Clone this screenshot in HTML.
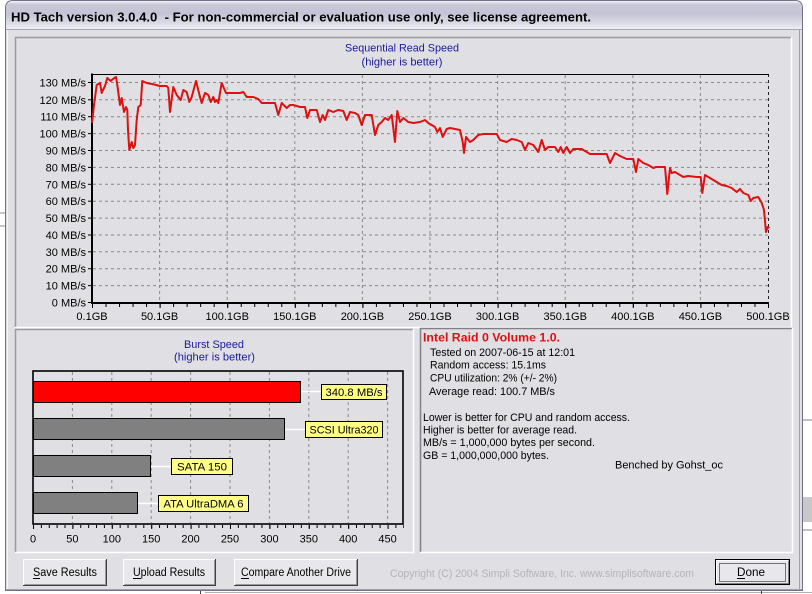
<!DOCTYPE html>
<html><head><meta charset="utf-8"><style>
html,body{margin:0;padding:0;background:#fff;}
svg{display:block;font-family:"Liberation Sans",Arial,sans-serif;}
</style></head><body>
<svg width="812" height="594" viewBox="0 0 812 594" xmlns="http://www.w3.org/2000/svg">
<defs>
<linearGradient id="tb" x1="0" y1="0" x2="0" y2="1">
<stop offset="0" stop-color="#f6f6fa"/>
<stop offset="0.12" stop-color="#c8c8d8"/>
<stop offset="0.45" stop-color="#c4c4d6"/>
<stop offset="0.8" stop-color="#dcdce6"/>
<stop offset="1" stop-color="#eeeef3"/>
</linearGradient>
</defs>
<rect x="0" y="0" width="812" height="594" fill="#ffffff"/>
<!-- outside bits -->
<rect x="803" y="497" width="9" height="25" fill="#c8c8c8"/>
<line x1="803" y1="420" x2="812" y2="420" stroke="#808080"/>
<line x1="803" y1="530" x2="812" y2="530" stroke="#808080"/>
<line x1="0" y1="213" x2="5" y2="213" stroke="#909090"/>
<line x1="0" y1="226" x2="5" y2="226" stroke="#909090"/>
<line x1="200.5" y1="588" x2="200.5" y2="594" stroke="#404040"/>
<line x1="205" y1="592.5" x2="812" y2="592.5" stroke="#b0b0b0"/>
<line x1="761.5" y1="588" x2="761.5" y2="594" stroke="#404040"/>

<!-- window -->
<path d="M5.5,590.5 V8 Q5.5,0.5 13,0.5 H795 Q802.5,0.5 802.5,8 V590.5 Z" fill="#e0dfe3" stroke="#70708a"/>
<path d="M6,29 V8 Q6,1 13,1 H795 Q802,1 802,8 V29 Z" fill="url(#tb)"/>
<line x1="6" y1="29.5" x2="802" y2="29.5" stroke="#a6a6b8"/>
<line x1="7.5" y1="30" x2="7.5" y2="589" stroke="#f4f4f6"/>
<line x1="799.5" y1="30" x2="799.5" y2="589" stroke="#a0a0a8"/>
<line x1="6" y1="589.5" x2="802" y2="589.5" stroke="#a0a0a8"/>
<text x="11" y="21.5" font-size="12.5" font-weight="bold" fill="#000" textLength="580" lengthAdjust="spacingAndGlyphs" xml:space="preserve">HD Tach version 3.0.4.0  - For non-commercial or evaluation use only, see license agreement.</text>

<!-- top panel -->
<rect x="15" y="37" width="776" height="290" fill="#e0dfe3"/>
<path d="M15.5,327 V37.5 H791" fill="none" stroke="#9a9aa0" stroke-width="1.5"/>
<path d="M15,327.5 H791.5 V37" fill="none" stroke="#ffffff" stroke-width="1.5"/>

<text x="402" y="51.5" font-size="11" fill="#1a1a9c" text-anchor="middle" textLength="114" lengthAdjust="spacingAndGlyphs">Sequential Read Speed</text>
<text x="402" y="65.5" font-size="11" fill="#1a1a9c" text-anchor="middle" textLength="81" lengthAdjust="spacingAndGlyphs">(higher is better)</text>

<!-- seq grid -->
<g stroke="#8a8a8a" stroke-width="1" stroke-dasharray="3 3">
<line x1="93" y1="285.6" x2="768" y2="285.6"/>
<line x1="93" y1="268.7" x2="768" y2="268.7"/>
<line x1="93" y1="251.8" x2="768" y2="251.8"/>
<line x1="93" y1="235" x2="768" y2="235"/>
<line x1="93" y1="218.1" x2="768" y2="218.1"/>
<line x1="93" y1="201.2" x2="768" y2="201.2"/>
<line x1="93" y1="184.3" x2="768" y2="184.3"/>
<line x1="93" y1="167.4" x2="768" y2="167.4"/>
<line x1="93" y1="150.5" x2="768" y2="150.5"/>
<line x1="93" y1="133.6" x2="768" y2="133.6"/>
<line x1="93" y1="116.7" x2="768" y2="116.7"/>
<line x1="93" y1="99.8" x2="768" y2="99.8"/>
<line x1="93" y1="82.5" x2="768" y2="82.5"/>
<line x1="159.6" y1="75" x2="159.6" y2="302"/>
<line x1="227.2" y1="75" x2="227.2" y2="302"/>
<line x1="294.8" y1="75" x2="294.8" y2="302"/>
<line x1="362.4" y1="75" x2="362.4" y2="302"/>
<line x1="430" y1="75" x2="430" y2="302"/>
<line x1="497.6" y1="75" x2="497.6" y2="302"/>
<line x1="565.2" y1="75" x2="565.2" y2="302"/>
<line x1="632.8" y1="75" x2="632.8" y2="302"/>
<line x1="700.4" y1="75" x2="700.4" y2="302"/>
</g>
<line x1="768.5" y1="74" x2="768.5" y2="302" stroke="#222" stroke-dasharray="3 3"/>
<line x1="92" y1="74.5" x2="769" y2="74.5" stroke="#000"/>
<line x1="92" y1="73.5" x2="92" y2="304" stroke="#000" stroke-width="2"/>
<line x1="91" y1="303" x2="769" y2="303" stroke="#000" stroke-width="2"/>
<!-- ticks -->
<line x1="92" y1="305.5" x2="770" y2="305.5" stroke="#000" stroke-width="3" stroke-dasharray="1 12.52"/>
<line x1="92" y1="306" x2="770" y2="306" stroke="#000" stroke-width="4" stroke-dasharray="1 66.6"/>
<line x1="88" y1="82.5" x2="88" y2="303" stroke="#000" stroke-width="0"/>
<g stroke="#000" stroke-width="1">
<line x1="88" y1="82.5" x2="92" y2="82.5"/><line x1="88" y1="99.8" x2="92" y2="99.8"/>
<line x1="88" y1="116.7" x2="92" y2="116.7"/><line x1="88" y1="133.6" x2="92" y2="133.6"/>
<line x1="88" y1="150.5" x2="92" y2="150.5"/><line x1="88" y1="167.4" x2="92" y2="167.4"/>
<line x1="88" y1="184.3" x2="92" y2="184.3"/><line x1="88" y1="201.2" x2="92" y2="201.2"/>
<line x1="88" y1="218.1" x2="92" y2="218.1"/><line x1="88" y1="235" x2="92" y2="235"/>
<line x1="88" y1="251.8" x2="92" y2="251.8"/><line x1="88" y1="268.7" x2="92" y2="268.7"/>
<line x1="88" y1="285.6" x2="92" y2="285.6"/><line x1="88" y1="302.5" x2="92" y2="302.5"/>
</g>
<g font-size="11" fill="#000" text-anchor="end">
<text x="86" y="86.5">130 MB/s</text>
<text x="86" y="103.8">120 MB/s</text>
<text x="86" y="120.7">110 MB/s</text>
<text x="86" y="137.6">100 MB/s</text>
<text x="86" y="154.5">90 MB/s</text>
<text x="86" y="171.4">80 MB/s</text>
<text x="86" y="188.3">70 MB/s</text>
<text x="86" y="205.2">60 MB/s</text>
<text x="86" y="222.1">50 MB/s</text>
<text x="86" y="239">40 MB/s</text>
<text x="86" y="255.8">30 MB/s</text>
<text x="86" y="272.7">20 MB/s</text>
<text x="86" y="289.6">10 MB/s</text>
<text x="86" y="306.5">0 MB/s</text>
</g>
<g font-size="11" fill="#000" text-anchor="middle">
<text x="92" y="320">0.1GB</text>
<text x="159.6" y="320">50.1GB</text>
<text x="227.2" y="320">100.1GB</text>
<text x="294.8" y="320">150.1GB</text>
<text x="362.4" y="320">200.1GB</text>
<text x="430" y="320">250.1GB</text>
<text x="497.6" y="320">300.1GB</text>
<text x="565.2" y="320">350.1GB</text>
<text x="632.8" y="320">400.1GB</text>
<text x="700.4" y="320">450.1GB</text>
<text x="768" y="320">500.1GB</text>
</g>
<polyline fill="none" stroke="#dd1111" stroke-width="2" stroke-linejoin="round" points="92,123 94,105 96.7,85 100,83 101.7,93 103,90 105,86 107.3,78 110.7,81 113,79 116,77 117.3,85 120,105 121.7,98 124,112 126,107 127.3,110 128,130 129.3,150 131.7,142 133.3,148 135,145 136.7,120 138.3,107 140.7,105 142.3,81 146.7,83 152,84 160,86 166.7,86 168.3,88 170,112 173.3,87 176.7,95 180.7,100 183.3,90 186.7,92 189.3,102 191.7,97 196,81 200,97 201.7,103 205,93 208.3,95 210.7,102 213.3,97 215,102 216.7,100 218.3,103 221.7,83 226,93 233,93 240,93 243.3,92 246.7,97 253.3,97 258.3,99 261.7,103 275,103 278.3,115 281.7,103 286.7,108 290,105 293.3,105 300,107 305,107 307.3,118 310,110 316.7,110 320,122 322.7,115 325,120 328.3,110 333.3,112 338.3,110 343.3,111 346.7,120 350,112 355,113 358.3,115 361.7,125 365,115 371.7,115 375,135 378.3,125 381.7,122 385,118 388.3,120 391.7,115 395,142 397.3,111 400,122 403.3,118 408.3,122 413.3,123 420,122 425,120 428.3,123 431.7,125 435,127 437.3,132 440,128 442.7,137 446.7,129 450,128 460,130 462.7,142 464,153 466,137 470,142 473.3,140 478.3,135 483.3,134 496.7,134 500,140 506.7,142 511.7,139 516.7,140 521.7,142 525,150 528.3,143 533.3,145 538.3,152 541.7,140 545,150 548.3,147 555,147 558.3,152 560.7,147 563.3,153 566.7,147 570,153 573.3,149 581.7,149 590,154 606.7,154 610,163 615,153 620,156 626.7,159 633.3,159 636,172 638.3,159 643.3,163 648.3,165 653.3,168 656,167 665,167 667.3,194 670,168 671.7,173 675,172 680,175 683.3,177 688,176 696.7,177 700.7,177 702.3,193 705,175 708.3,177 713.3,180 718.3,183 721.7,185 726.7,186 731.7,188 736.7,192 740,189 743.3,193 748.3,195 750.7,201 753.3,198 758.3,197 761.7,203 764,210 766,232 767.7,227 769.3,228"/>

<!-- bottom-left panel -->
<rect x="15" y="329" width="398" height="223" fill="#e0dfe3"/>
<path d="M15.5,552 V329.5 H413" fill="none" stroke="#9a9aa0" stroke-width="1.5"/>
<path d="M15,552.5 H413.5 V329" fill="none" stroke="#ffffff" stroke-width="1.5"/>
<text x="214" y="348" font-size="11" fill="#1a1a9c" text-anchor="middle" textLength="60" lengthAdjust="spacingAndGlyphs">Burst Speed</text>
<text x="214.5" y="360.5" font-size="11" fill="#1a1a9c" text-anchor="middle" textLength="81" lengthAdjust="spacingAndGlyphs">(higher is better)</text>

<g stroke="#8a8a8a" stroke-dasharray="3 3">
<line x1="72.4" y1="372" x2="72.4" y2="523"/>
<line x1="111.8" y1="372" x2="111.8" y2="523"/>
<line x1="151.2" y1="372" x2="151.2" y2="523"/>
<line x1="190.6" y1="372" x2="190.6" y2="523"/>
<line x1="230" y1="372" x2="230" y2="523"/>
<line x1="269.4" y1="372" x2="269.4" y2="523"/>
<line x1="308.8" y1="372" x2="308.8" y2="523"/>
<line x1="348.2" y1="372" x2="348.2" y2="523"/>
<line x1="387.6" y1="372" x2="387.6" y2="523"/>
</g>
<rect x="33" y="371" width="370" height="153" fill="none" stroke="#000" stroke-width="1.6"/>
<line x1="33" y1="526.5" x2="404" y2="526.5" stroke="#000" stroke-width="3" stroke-dasharray="1 6.878"/>
<line x1="33" y1="527" x2="404" y2="527" stroke="#000" stroke-width="4" stroke-dasharray="1 38.4"/>

<!-- connectors -->
<g stroke="#ffffff" stroke-width="1.5">
<line x1="301" y1="391.5" x2="322" y2="391.5"/>
<line x1="285" y1="429.5" x2="305" y2="429.5"/>
<line x1="151" y1="466.5" x2="171" y2="466.5"/>
<line x1="138" y1="503.5" x2="158" y2="503.5"/>
</g>
<rect x="33.5" y="381.5" width="267" height="21" fill="#ff0000" stroke="#000"/>
<rect x="33.5" y="418.5" width="251" height="21" fill="#808080" stroke="#000"/>
<rect x="33.5" y="455.5" width="117" height="21" fill="#808080" stroke="#000"/>
<rect x="33.5" y="492.5" width="104" height="21" fill="#808080" stroke="#000"/>

<g font-size="11" fill="#000">
<rect x="321.5" y="384.5" width="65" height="15" fill="#ffff88" stroke="#000"/>
<text x="354" y="396" text-anchor="middle" textLength="57" lengthAdjust="spacingAndGlyphs">340.8 MB/s</text>
<rect x="305.5" y="421.5" width="77" height="16" fill="#ffff88" stroke="#000"/>
<text x="344" y="433.5" text-anchor="middle" textLength="69" lengthAdjust="spacingAndGlyphs">SCSI Ultra320</text>
<rect x="171.5" y="458.5" width="61" height="16" fill="#ffff88" stroke="#000"/>
<text x="202" y="470.5" text-anchor="middle" textLength="50" lengthAdjust="spacingAndGlyphs">SATA 150</text>
<rect x="158.5" y="495.5" width="90" height="16" fill="#ffff88" stroke="#000"/>
<text x="203.5" y="507.5" text-anchor="middle" textLength="80" lengthAdjust="spacingAndGlyphs">ATA UltraDMA 6</text>
</g>
<g font-size="11" fill="#000" text-anchor="middle">
<text x="33" y="542.5">0</text>
<text x="72.4" y="542.5">50</text>
<text x="111.8" y="542.5">100</text>
<text x="151.2" y="542.5">150</text>
<text x="190.6" y="542.5">200</text>
<text x="230" y="542.5">250</text>
<text x="269.4" y="542.5">300</text>
<text x="308.8" y="542.5">350</text>
<text x="348.2" y="542.5">400</text>
<text x="387.6" y="542.5">450</text>
</g>

<!-- right panel -->
<rect x="420" y="328" width="372" height="224" fill="#e0dfe3"/>
<path d="M420.5,552 V328.5 H792" fill="none" stroke="#808088" stroke-width="1.5"/>
<path d="M420,552.5 H792.5 V328" fill="none" stroke="#ffffff" stroke-width="1.5"/>
<text x="423" y="341.5" font-size="12" font-weight="bold" fill="#dd1111" textLength="137" lengthAdjust="spacingAndGlyphs">Intel Raid 0 Volume 1.0.</text>
<g font-size="11" fill="#000">
<text x="430" y="356" textLength="145" lengthAdjust="spacingAndGlyphs">Tested on 2007-06-15 at 12:01</text>
<text x="430" y="368.5" textLength="116" lengthAdjust="spacingAndGlyphs">Random access: 15.1ms</text>
<text x="430" y="381.5" textLength="127" lengthAdjust="spacingAndGlyphs">CPU utilization: 2% (+/- 2%)</text>
<text x="429" y="395" textLength="126" lengthAdjust="spacingAndGlyphs">Average read: 100.7 MB/s</text>
<text x="423" y="421" textLength="207" lengthAdjust="spacingAndGlyphs">Lower is better for CPU and random access.</text>
<text x="423" y="433.5" textLength="154" lengthAdjust="spacingAndGlyphs">Higher is better for average read.</text>
<text x="423" y="446" textLength="172" lengthAdjust="spacingAndGlyphs">MB/s = 1,000,000 bytes per second.</text>
<text x="423" y="459" textLength="126" lengthAdjust="spacingAndGlyphs">GB = 1,000,000,000 bytes.</text>
<text x="615" y="468.5" textLength="108" lengthAdjust="spacingAndGlyphs">Benched by Gohst_oc</text>
</g>

<!-- copyright -->
<text x="390" y="577" font-size="11" fill="#b4b4b8" textLength="304" lengthAdjust="spacingAndGlyphs">Copyright (C) 2004 Simpli Software, Inc. www.simplisoftware.com</text>

<!-- buttons -->
<g>
<rect x="23" y="559" width="84" height="27" fill="#e8e8ec"/>
<path d="M23.5,585.5 V559.5 H106.5" fill="none" stroke="#ffffff"/>
<path d="M23,585.5 H106.5 V559" fill="none" stroke="#404040"/>
<path d="M24.5,584.5 H105.5 V560" fill="none" stroke="#9a9aa0"/>
<text x="33" y="576" font-size="11.5" fill="#000" textLength="64" lengthAdjust="spacingAndGlyphs">Save Results</text>
<line x1="33" y1="578.5" x2="40" y2="578.5" stroke="#000"/>

<rect x="123" y="559" width="93" height="27" fill="#e8e8ec"/>
<path d="M123.5,585.5 V559.5 H215.5" fill="none" stroke="#ffffff"/>
<path d="M123,585.5 H215.5 V559" fill="none" stroke="#404040"/>
<path d="M124.5,584.5 H214.5 V560" fill="none" stroke="#9a9aa0"/>
<text x="133" y="576" font-size="11.5" fill="#000" textLength="72" lengthAdjust="spacingAndGlyphs">Upload Results</text>
<line x1="133" y1="578.5" x2="141" y2="578.5" stroke="#000"/>

<rect x="234" y="559" width="124" height="27" fill="#e8e8ec"/>
<path d="M234.5,585.5 V559.5 H357.5" fill="none" stroke="#ffffff"/>
<path d="M234,585.5 H357.5 V559" fill="none" stroke="#404040"/>
<path d="M235.5,584.5 H356.5 V560" fill="none" stroke="#9a9aa0"/>
<text x="241" y="576" font-size="11.5" fill="#000" textLength="110" lengthAdjust="spacingAndGlyphs">Compare Another Drive</text>
<line x1="241" y1="578.5" x2="249" y2="578.5" stroke="#000"/>

<rect x="715" y="559" width="75" height="26" fill="#e8e8ec"/>
<rect x="715.5" y="559.5" width="74" height="25" fill="none" stroke="#000"/>
<path d="M716.5,583.5 V560.5 H788.5" fill="none" stroke="#ffffff"/>
<path d="M716.5,583.5 H788.5 V560.5" fill="none" stroke="#808080"/>
<rect x="719.5" y="563.5" width="66" height="18" fill="none" stroke="#000" stroke-dasharray="1 1"/>
<text x="737" y="576" font-size="11.5" fill="#000" textLength="28" lengthAdjust="spacingAndGlyphs">Done</text>
<line x1="737" y1="578.5" x2="745" y2="578.5" stroke="#000"/>
</g>
</svg>
</body></html>
